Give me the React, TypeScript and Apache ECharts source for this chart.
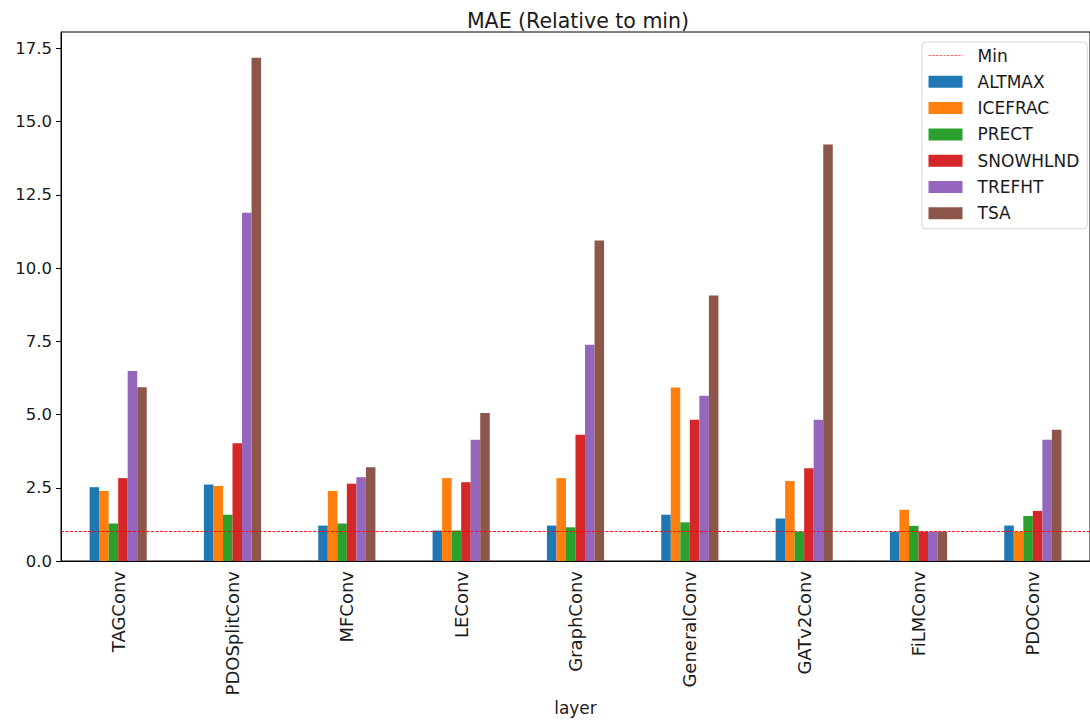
import React, { useEffect, useRef } from "react";
import * as echarts from "echarts";

const categories = ["TAGConv", "PDOSplitConv", "MFConv", "LEConv", "GraphConv", "GeneralConv", "GATv2Conv", "FiLMConv", "PDOConv"];
const seriesNames = ["ALTMAX", "ICEFRAC", "PRECT", "SNOWHLND", "TREFHT", "TSA"];
const colors = ["#1f77b4", "#ff7f0e", "#2ca02c", "#d62728", "#9467bd", "#8c564b"];

const ALTMAX = [2.52, 2.61, 1.21, 1.04, 1.21, 1.58, 1.45, 1.0, 1.21];
const ICEFRAC = [2.39, 2.56, 2.39, 2.83, 2.83, 5.92, 2.73, 1.75, 1.0];
const PRECT = [1.28, 1.58, 1.28, 1.04, 1.15, 1.32, 1.0, 1.2, 1.54];
const SNOWHLND = [2.83, 4.02, 2.64, 2.69, 4.31, 4.82, 3.17, 1.0, 1.71];
const TREFHT = [6.49, 11.89, 2.86, 4.14, 7.38, 5.64, 4.82, 1.0, 4.14];
const TSA = [5.93, 17.18, 3.2, 5.05, 10.94, 9.06, 14.22, 1.0, 4.48];
const seriesValues = [ALTMAX, ICEFRAC, PRECT, SNOWHLND, TREFHT, TSA];

const minValue = 1.0;
const yTicks = ["0.0", "2.5", "5.0", "7.5", "10.0", "12.5", "15.0", "17.5"];

const FONT = "DejaVu Sans";
const RED = "#ff0000";

export default function App() {
  const ref = useRef<HTMLDivElement>(null);
  useEffect(() => {
    document.body.style.margin = "0";
    const chart = echarts.init(ref.current!, null, { renderer: "svg" });
    const bars: any[] = seriesNames.map((name, i) => ({
      name,
      type: "bar",
      data: seriesValues[i],
      barWidth: "8.333%",
      barGap: "0%",
      itemStyle: { color: colors[i] },
      z: 2,
    }));
    chart.setOption({
      animation: false,
      backgroundColor: "#fff",
      textStyle: { fontFamily: FONT },
      title: {
        text: "MAE (Relative to min)",
        left: 573,
        textAlign: "center",
        top: 5,
        textStyle: { fontFamily: FONT, fontSize: 20.5, fontWeight: "normal", color: "#1a1a1a" },
      },
      grid: {
        left: 61,
        top: 32,
        width: 1030,
        height: 529,
        show: true,
        borderColor: "#000",
        borderWidth: 1,
        backgroundColor: "transparent",
      },
      legend: {
        orient: "vertical",
        left: 922,
        top: 42,
        padding: [5, 8, 7, 6],
        itemWidth: 34,
        itemHeight: 12,
        itemGap: 9.3,
        borderColor: "#d6d6d6",
        borderWidth: 1,
        borderRadius: 4,
        backgroundColor: "rgba(255,255,255,0.8)",
        textStyle: { fontFamily: FONT, fontSize: 17, color: "#1a1a1a", padding: [0, 0, 0, 10] },
        data: [
          { name: "Min", itemStyle: { opacity: 0 }, lineStyle: { color: RED, width: 1, type: [2.5, 1.2], opacity: 0.6 } },
          ...seriesNames.map((n) => ({ name: n, icon: "rect" })),
        ],
      },
      xAxis: {
        type: "category",
        data: categories,
        boundaryGap: true,
        name: "layer",
        nameLocation: "middle",
        nameGap: 138,
        nameMoveOverlap: false,
        nameTextStyle: { fontFamily: FONT, fontSize: 17, color: "#1a1a1a" },
        axisLine: { lineStyle: { color: "#000", width: 1 } },
        axisTick: { alignWithLabel: true, length: 5, lineStyle: { color: "#000" } },
        axisLabel: { rotate: 90, fontFamily: FONT, fontSize: 18, color: "#1a1a1a", margin: 10 },
        splitLine: { show: false },
      },
      yAxis: {
        type: "value",
        min: 0,
        max: 18.06,
        interval: 2.5,
        axisLine: { show: true, lineStyle: { color: "#000", width: 1 } },
        axisTick: { show: true, length: 5, lineStyle: { color: "#000" } },
        axisLabel: {
          fontFamily: FONT,
          fontSize: 16.5,
          color: "#1a1a1a",
          margin: 9,
          showMaxLabel: false,
          formatter: (v: number) => {
            const idx = Math.round(v / 2.5);
            return Math.abs(v - idx * 2.5) < 1e-6 && yTicks[idx] !== undefined ? yTicks[idx] : "";
          },
        },
        splitLine: { show: false },
      },
      series: [
        {
          name: "Min",
          type: "line",
          data: [],
          symbol: "none",
          color: RED,
          lineStyle: { color: RED, width: 1, type: [2.5, 1.2] },
          itemStyle: { color: RED },
          z: 10,
          markLine: {
            silent: true,
            symbol: "none",
            label: { show: false },
            itemStyle: { color: RED },
            lineStyle: { color: RED, width: 1.1, type: [3, 1.5], opacity: 0.9 },
            data: [{ yAxis: minValue }],
          },
        },
        ...bars,
      ],
    });
    return () => chart.dispose();
  }, []);
  return <div ref={ref} style={{ position: "absolute", left: 0, top: 0, width: 1090, height: 725 }} />;
}
